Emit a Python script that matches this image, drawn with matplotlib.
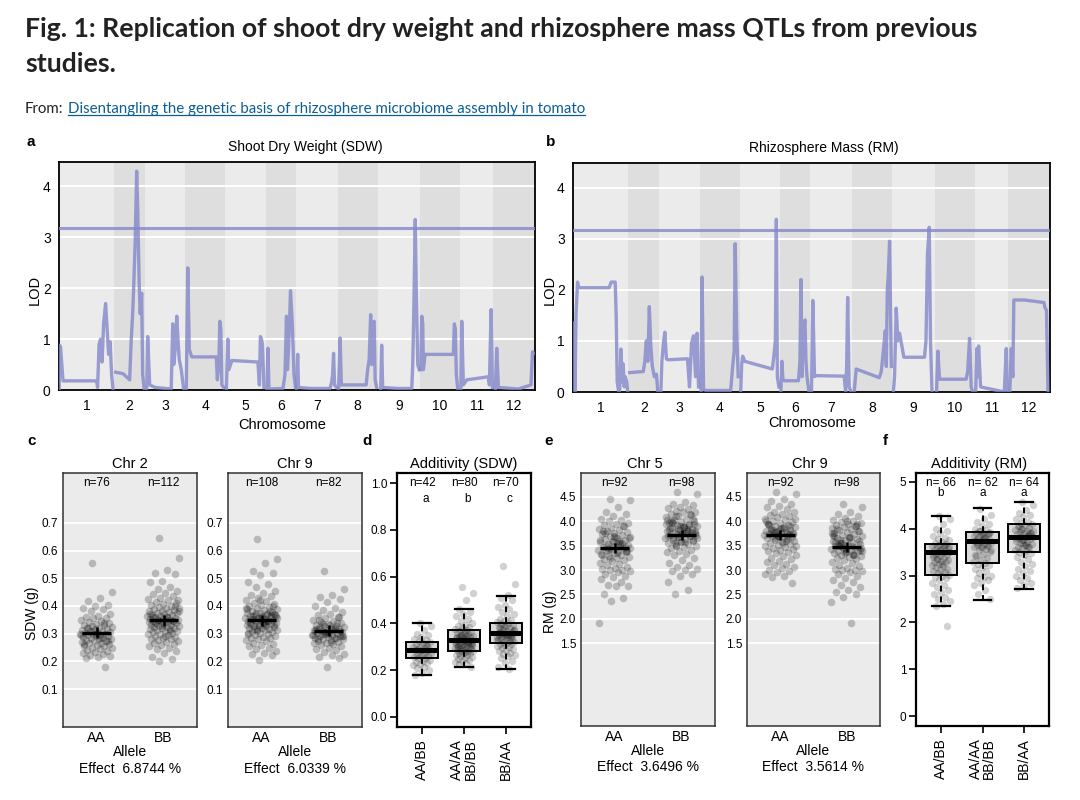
import matplotlib
matplotlib.use("Agg")
import matplotlib.pyplot as plt
import numpy as np
from matplotlib.lines import Line2D

W, H = 1080, 800

# ---------------- LOD profiles (cM within chromosome, LOD) ----------------
chr_names = [str(i) for i in range(1, 13)]
chr_len = [110, 62, 80, 80, 81, 60, 83, 80, 84, 81, 66, 83]

sdw_pos = [
    [0.3, 1, 3, 8, 75, 77, 80, 83, 86, 89, 93, 96, 99, 102, 105, 108],
    [3, 18, 31, 34, 37, 39, 42, 45, 47, 50, 52, 55, 57, 60],
    [3, 5, 9, 20, 52, 55, 57, 60, 63, 66, 68, 72, 77],
    [2, 5, 8, 13, 62, 64, 67, 69, 71, 73, 77],
    [2, 5, 7, 13, 65, 68, 70, 72, 74, 77],
    [2, 4, 6, 34, 38, 41, 43, 45, 47, 49, 51, 53, 56, 59],
    [1, 3.4, 5, 30, 68, 71, 73, 75, 77, 81],
    [2, 5, 7.6, 57, 60, 63, 66, 68, 70, 73, 75, 78],
    [6, 8, 10, 40, 68, 70, 72, 75, 77, 80, 83],
    [2, 4, 6, 7.3, 10.6, 67, 69, 71, 73, 76],
    [1, 2.8, 6, 13, 56, 58, 61.3, 64],
    [4, 6.6, 10, 50, 75, 78, 81],
]
sdw_lod = [
    [0.0, 0.88, 0.85, 0.18, 0.18, 0.05, 0.9, 1.0, 0.55, 1.3, 1.7, 1.2, 0.7, 0.95, 0.3, 0.0],
    [0.35, 0.32, 0.2, 0.95, 1.5, 2.0, 2.9, 4.3, 3.6, 2.1, 1.5, 1.9, 0.3, 0.02],
    [0.0, 1.05, 0.1, 0.05, 0.02, 1.3, 0.5, 0.8, 1.45, 0.9, 0.6, 0.4, 0.0],
    [0.0, 2.4, 0.8, 0.65, 0.65, 0.2, 0.5, 1.35, 1.2, 0.1, 0.05],
    [0.0, 1.0, 0.4, 0.58, 0.55, 0.1, 1.05, 1.0, 0.9, 0.05],
    [0.0, 0.82, 0.02, 0.03, 0.3, 1.45, 0.4, 0.8, 1.3, 1.95, 1.6, 1.2, 0.3, 0.05],
    [0.0, 0.7, 0.05, 0.03, 0.03, 0.15, 0.3, 0.72, 0.1, 0.05],
    [0.0, 1.02, 0.1, 0.1, 0.4, 0.6, 1.48, 0.5, 1.3, 1.35, 0.2, 0.05],
    [0.0, 0.88, 0.05, 0.03, 0.03, 0.5, 1.5, 3.35, 2.0, 0.5, 0.4],
    [0.4, 1.45, 1.3, 0.4, 0.7, 0.7, 1.3, 1.2, 0.3, 0.0],
    [0.0, 1.35, 0.1, 0.2, 0.26, 0.1, 1.58, 0.05],
    [0.0, 0.82, 0.05, 0.02, 0.1, 0.75, 0.72],
]
sdw_threshold = 3.18

rm_pos = [
    [1, 3, 4, 6, 9, 11, 14, 72, 76, 84, 86, 88, 91, 93, 95.5, 98, 100, 102, 104, 107, 109],
    [3, 30, 33, 36, 39, 42, 45, 48, 52, 56, 59],
    [3, 5, 8.6, 11, 14, 17, 56, 60, 64, 68, 72, 75, 78],
    [3, 5, 8, 13, 62, 66, 69, 71, 74, 77],
    [2, 4, 6, 10, 65, 68, 71, 73, 75, 78],
    [1, 3, 5, 8, 36, 39, 41, 43, 46, 49, 51, 53, 57],
    [2, 4.6, 8, 11, 67, 70, 72, 74, 77, 81],
    [4, 8, 54, 58, 61, 64, 66, 68, 70, 72, 74.5, 78],
    [2, 4.4, 7.7, 11, 14.4, 23, 64, 67, 70, 73.5, 76, 79],
    [4, 6.7, 10, 63, 66, 69.8, 73, 76],
    [1, 3.5, 5, 6.8, 10.8, 58, 61.9, 64],
    [3, 5.8, 9, 11, 32, 71, 73, 76, 79],
]
rm_lod = [
    [1.35, 1.3, 0.0, 1.5, 2.15, 2.05, 2.04, 2.04, 2.15, 2.15, 1.5, 0.2, 0.0, 0.05, 0.84, 0.2, 0.55, 0.1, 0.3, 0.2, 0.0],
    [0.38, 0.4, 0.6, 1.0, 0.6, 1.67, 0.9, 0.5, 0.3, 0.35, 0.0],
    [0.0, 0.6, 1.0, 1.17, 0.65, 0.63, 0.65, 0.1, 0.95, 1.1, 0.3, 1.15, 0.1],
    [0.0, 2.25, 0.05, 0.03, 0.03, 0.5, 0.8, 2.9, 1.2, 0.3],
    [0.0, 0.55, 0.7, 0.6, 0.45, 0.7, 1.0, 3.38, 0.3, 0.1],
    [0.0, 0.6, 0.25, 0.22, 0.22, 0.6, 2.2, 0.3, 1.2, 1.41, 0.6, 0.3, 0.0],
    [0.0, 1.79, 0.3, 0.32, 0.31, 0.0, 0.5, 1.85, 0.1, 0.0],
    [0.0, 0.45, 0.28, 0.4, 0.7, 1.0, 1.2, 0.5, 2.0, 2.3, 2.95, 0.5],
    [0.0, 0.3, 1.64, 1.0, 1.15, 0.68, 0.68, 1.0, 2.7, 3.22, 1.0, 0.0],
    [0.0, 0.8, 0.25, 0.25, 0.4, 1.05, 0.1, 0.0],
    [0.0, 0.85, 0.3, 0.9, 0.1, 0.0, 0.85, 0.0],
    [0.0, 0.85, 0.3, 1.8, 1.8, 1.75, 1.65, 1.6, 0.0],
]
rm_threshold = 3.16

# ---------------- allele effect data ----------------
alleles = ["AA", "BB"]

sdw_chr2_aa = [
    0.555, 0.450, 0.430, 0.417, 0.405, 0.400, 0.392, 0.388, 0.380, 0.372,
    0.365, 0.360, 0.358, 0.355, 0.350, 0.347, 0.342, 0.340, 0.336, 0.333,
    0.330, 0.328, 0.325, 0.322, 0.320, 0.318, 0.315, 0.313, 0.310, 0.308,
    0.306, 0.304, 0.302, 0.300, 0.300, 0.298, 0.296, 0.294, 0.292, 0.290,
    0.288, 0.286, 0.284, 0.282, 0.280, 0.278, 0.275, 0.272, 0.270, 0.268,
    0.265, 0.262, 0.260, 0.257, 0.254, 0.250, 0.247, 0.244, 0.240, 0.236,
    0.234, 0.230, 0.226, 0.222, 0.218, 0.215, 0.213, 0.180, 0.310, 0.295,
    0.285, 0.320, 0.275, 0.300, 0.262, 0.338]
sdw_chr2_bb = [
    0.645, 0.572, 0.530, 0.520, 0.515, 0.490, 0.485, 0.470, 0.462, 0.455,
    0.448, 0.442, 0.436, 0.430, 0.425, 0.420, 0.416, 0.412, 0.408, 0.404,
    0.400, 0.397, 0.394, 0.391, 0.388, 0.385, 0.382, 0.380, 0.378, 0.375,
    0.373, 0.371, 0.369, 0.367, 0.365, 0.363, 0.361, 0.359, 0.357, 0.355,
    0.353, 0.351, 0.350, 0.349, 0.348, 0.347, 0.346, 0.345, 0.343, 0.341,
    0.339, 0.337, 0.335, 0.333, 0.331, 0.329, 0.327, 0.325, 0.323, 0.321,
    0.319, 0.317, 0.315, 0.313, 0.311, 0.309, 0.306, 0.303, 0.300, 0.297,
    0.294, 0.291, 0.288, 0.285, 0.282, 0.279, 0.276, 0.273, 0.270, 0.267,
    0.264, 0.260, 0.256, 0.250, 0.244, 0.236, 0.230, 0.215, 0.210, 0.202,
    0.380, 0.360, 0.340, 0.400, 0.330, 0.370, 0.310, 0.350, 0.420, 0.290,
    0.360, 0.345]
sdw_chr9_aa = [
    0.640, 0.570, 0.555, 0.525, 0.520, 0.510, 0.485, 0.478, 0.470, 0.455,
    0.445, 0.440, 0.435, 0.428, 0.422, 0.418, 0.412, 0.408, 0.404, 0.400,
    0.396, 0.392, 0.388, 0.385, 0.382, 0.379, 0.376, 0.373, 0.370, 0.368,
    0.366, 0.364, 0.362, 0.360, 0.358, 0.356, 0.354, 0.352, 0.350, 0.348,
    0.346, 0.344, 0.342, 0.340, 0.338, 0.336, 0.334, 0.332, 0.330, 0.328,
    0.326, 0.324, 0.322, 0.320, 0.318, 0.316, 0.314, 0.312, 0.310, 0.307,
    0.304, 0.301, 0.298, 0.295, 0.292, 0.289, 0.286, 0.283, 0.280, 0.276,
    0.272, 0.268, 0.264, 0.260, 0.255, 0.250, 0.245, 0.238, 0.230, 0.225,
    0.222, 0.205, 0.390, 0.370, 0.350, 0.330, 0.360, 0.340, 0.380, 0.310,
    0.355, 0.335, 0.365, 0.400, 0.420, 0.300, 0.345, 0.375, 0.362, 0.338,
    0.352, 0.368, 0.326, 0.392, 0.344, 0.318, 0.372, 0.358]
sdw_chr9_bb = [
    0.525, 0.460, 0.440, 0.432, 0.425, 0.415, 0.400, 0.392, 0.385, 0.378,
    0.372, 0.366, 0.360, 0.355, 0.350, 0.346, 0.342, 0.338, 0.335, 0.332,
    0.329, 0.326, 0.323, 0.320, 0.318, 0.316, 0.314, 0.312, 0.310, 0.308,
    0.306, 0.304, 0.302, 0.300, 0.298, 0.296, 0.294, 0.292, 0.290, 0.288,
    0.286, 0.284, 0.282, 0.280, 0.277, 0.274, 0.271, 0.268, 0.265, 0.262,
    0.258, 0.254, 0.250, 0.246, 0.240, 0.234, 0.228, 0.222, 0.215, 0.212,
    0.180, 0.310, 0.320, 0.300, 0.290, 0.330, 0.280, 0.340, 0.305, 0.295,
    0.315, 0.325, 0.310, 0.300, 0.318, 0.285, 0.335, 0.290, 0.270, 0.350,
    0.360, 0.305]
rm_chr5_aa = [
    4.45, 4.44, 4.30, 4.20, 4.15, 4.10, 4.05, 4.03, 4.00, 3.97,
    3.95, 3.92, 3.90, 3.87, 3.85, 3.82, 3.80, 3.78, 3.75, 3.73,
    3.71, 3.69, 3.67, 3.65, 3.63, 3.61, 3.59, 3.57, 3.55, 3.53,
    3.51, 3.49, 3.47, 3.45, 3.44, 3.42, 3.40, 3.38, 3.36, 3.34,
    3.32, 3.30, 3.28, 3.26, 3.24, 3.22, 3.20, 3.18, 3.15, 3.12,
    3.10, 3.07, 3.04, 3.02, 3.00, 3.00, 2.98, 2.95, 2.92, 2.88,
    2.85, 2.82, 2.75, 2.70, 2.68, 2.68, 2.50, 2.42, 2.36, 1.92,
    3.60, 3.50, 3.40, 3.70, 3.30, 3.55, 3.45, 3.65, 3.35, 3.75,
    3.48, 3.58, 3.62, 3.52, 3.42, 3.38, 3.68, 3.80, 3.90, 3.25,
    3.46, 3.56]
rm_chr5_bb = [
    4.60, 4.55, 4.40, 4.36, 4.33, 4.30, 4.28, 4.25, 4.22, 4.20,
    4.18, 4.15, 4.12, 4.10, 4.08, 4.05, 4.03, 4.01, 3.99, 3.97,
    3.95, 3.93, 3.91, 3.89, 3.87, 3.85, 3.83, 3.81, 3.79, 3.77,
    3.75, 3.73, 3.71, 3.70, 3.68, 3.66, 3.64, 3.62, 3.60, 3.58,
    3.56, 3.54, 3.52, 3.50, 3.48, 3.45, 3.42, 3.39, 3.36, 3.33,
    3.30, 3.25, 3.20, 3.15, 3.10, 3.06, 3.03, 3.00, 2.97, 2.92,
    2.88, 2.75, 2.60, 2.50, 3.80, 3.90, 4.00, 3.70, 3.85, 3.95,
    3.75, 3.65, 4.05, 3.60, 3.82, 3.92, 4.10, 3.72, 3.88, 3.98,
    3.78, 3.68, 4.02, 3.84, 3.55, 3.94, 3.76, 3.86, 4.15, 3.74,
    3.66, 3.58, 3.96, 3.62, 3.90, 3.70, 3.80, 3.50]
rm_chr9_aa = [
    4.60, 4.55, 4.45, 4.42, 4.35, 4.32, 4.30, 4.25, 4.20, 4.18,
    4.15, 4.12, 4.10, 4.08, 4.05, 4.03, 4.00, 3.98, 3.96, 3.94,
    3.92, 3.90, 3.88, 3.86, 3.84, 3.82, 3.80, 3.79, 3.78, 3.77,
    3.76, 3.75, 3.74, 3.73, 3.72, 3.71, 3.70, 3.69, 3.68, 3.67,
    3.66, 3.64, 3.62, 3.60, 3.58, 3.56, 3.54, 3.52, 3.50, 3.48,
    3.46, 3.44, 3.42, 3.40, 3.37, 3.34, 3.31, 3.28, 3.25, 3.22,
    3.19, 3.16, 3.13, 3.10, 3.07, 3.04, 3.01, 2.98, 2.95, 2.92,
    2.88, 2.85, 2.73, 3.85, 3.95, 3.75, 3.65, 4.05, 3.55, 3.80,
    3.90, 3.70, 4.00, 3.60, 3.82, 3.74, 3.86, 3.92, 3.68, 3.78,
    3.50, 3.88]
rm_chr9_bb = [
    4.35, 4.30, 4.20, 4.15, 4.10, 4.06, 4.03, 4.00, 3.98, 3.96,
    3.94, 3.92, 3.90, 3.88, 3.86, 3.84, 3.82, 3.80, 3.78, 3.76,
    3.74, 3.72, 3.70, 3.68, 3.66, 3.64, 3.62, 3.60, 3.58, 3.56,
    3.54, 3.52, 3.50, 3.48, 3.46, 3.44, 3.42, 3.40, 3.38, 3.36,
    3.34, 3.32, 3.30, 3.28, 3.26, 3.24, 3.22, 3.20, 3.17, 3.14,
    3.11, 3.08, 3.05, 3.02, 3.00, 3.00, 2.98, 2.95, 2.92, 2.88,
    2.84, 2.80, 2.75, 2.70, 2.65, 2.60, 2.55, 2.50, 2.45, 2.35,
    1.92, 3.50, 3.60, 3.40, 3.70, 3.30, 3.55, 3.45, 3.65, 3.85,
    3.95, 3.35, 3.75, 3.50, 3.62, 3.42, 4.00, 3.58, 3.90, 3.48,
    3.38, 3.68, 3.52, 3.80, 3.44, 3.72, 3.30, 3.56]

sdw_chr2_mean = [0.303, 0.348]
sdw_chr9_mean = [0.348, 0.310]
rm_chr5_mean = [3.45, 3.72]
rm_chr9_mean = [3.72, 3.47]
sdw_se = 0.02
rm_se = 0.11
sdw_chr2_n = [76, 112]
sdw_chr9_n = [108, 82]
rm_chr5_n = [92, 98]
rm_chr9_n = [92, 98]

# ---------------- additivity data ----------------
combos = ["AA/BB", "AA/AA\nBB/BB", "BB/AA"]

sdw_add_aabb = [
    0.40, 0.39, 0.37, 0.355, 0.35, 0.34, 0.335, 0.33, 0.325, 0.32,
    0.315, 0.31, 0.305, 0.30, 0.30, 0.295, 0.29, 0.29, 0.285, 0.285,
    0.28, 0.28, 0.275, 0.27, 0.265, 0.26, 0.26, 0.255, 0.25, 0.25,
    0.245, 0.24, 0.235, 0.23, 0.225, 0.22, 0.215, 0.21, 0.20, 0.19,
    0.18, 0.31]
sdw_add_same = [
    0.555, 0.530, 0.500, 0.460, 0.450, 0.440, 0.430, 0.420, 0.410, 0.400,
    0.395, 0.390, 0.385, 0.380, 0.376, 0.372, 0.368, 0.364, 0.360, 0.357,
    0.354, 0.351, 0.348, 0.345, 0.342, 0.340, 0.338, 0.336, 0.334, 0.332,
    0.330, 0.328, 0.326, 0.325, 0.324, 0.322, 0.320, 0.318, 0.316, 0.314,
    0.312, 0.310, 0.308, 0.306, 0.304, 0.302, 0.300, 0.298, 0.296, 0.294,
    0.292, 0.290, 0.288, 0.286, 0.284, 0.282, 0.280, 0.278, 0.275, 0.272,
    0.269, 0.266, 0.263, 0.260, 0.256, 0.252, 0.248, 0.244, 0.240, 0.235,
    0.230, 0.225, 0.215, 0.330, 0.340, 0.320, 0.350, 0.310, 0.360, 0.300]
sdw_add_baaa = [
    0.645, 0.570, 0.520, 0.510, 0.500, 0.480, 0.470, 0.460, 0.450, 0.440,
    0.430, 0.420, 0.415, 0.410, 0.405, 0.400, 0.396, 0.392, 0.388, 0.384,
    0.380, 0.376, 0.372, 0.368, 0.365, 0.362, 0.360, 0.358, 0.356, 0.355,
    0.354, 0.352, 0.350, 0.348, 0.345, 0.342, 0.340, 0.337, 0.334, 0.331,
    0.328, 0.325, 0.322, 0.319, 0.316, 0.313, 0.310, 0.306, 0.302, 0.298,
    0.294, 0.290, 0.285, 0.280, 0.275, 0.270, 0.265, 0.260, 0.250, 0.240,
    0.230, 0.215, 0.205, 0.360, 0.370, 0.350, 0.380, 0.340, 0.390, 0.330]
sdw_box_q1 = [0.251, 0.283, 0.315]
sdw_box_med = [0.286, 0.329, 0.358]
sdw_box_q3 = [0.322, 0.372, 0.400]
sdw_box_lo = [0.180, 0.215, 0.204]
sdw_box_hi = [0.400, 0.460, 0.518]
sdw_add_n = [42, 80, 70]
sdw_add_letters = ["a", "b", "c"]

rm_add_aabb = [
    4.28, 4.20, 4.10, 4.00, 3.95, 3.90, 3.85, 3.80, 3.78, 3.75,
    3.72, 3.70, 3.68, 3.66, 3.64, 3.62, 3.60, 3.58, 3.56, 3.54,
    3.52, 3.50, 3.50, 3.48, 3.46, 3.44, 3.42, 3.40, 3.38, 3.36,
    3.34, 3.32, 3.30, 3.28, 3.25, 3.22, 3.20, 3.18, 3.15, 3.12,
    3.10, 3.08, 3.05, 3.02, 3.00, 2.98, 2.95, 2.90, 2.85, 2.80,
    2.75, 2.70, 2.65, 2.60, 2.55, 2.50, 2.45, 2.40, 2.35, 1.92,
    3.55, 3.45, 3.65, 3.35, 3.60, 3.25]
rm_add_same = [
    4.43, 4.30, 4.20, 4.15, 4.10, 4.05, 4.00, 3.98, 3.96, 3.94,
    3.92, 3.90, 3.88, 3.86, 3.84, 3.82, 3.80, 3.78, 3.76, 3.74,
    3.73, 3.72, 3.70, 3.68, 3.66, 3.64, 3.62, 3.60, 3.57, 3.54,
    3.50, 3.46, 3.42, 3.38, 3.34, 3.30, 3.27, 3.25, 3.22, 3.18,
    3.14, 3.10, 3.05, 3.00, 2.98, 2.95, 2.90, 2.85, 2.80, 2.70,
    2.60, 2.50, 3.85, 3.75, 3.65, 3.95, 3.55, 3.80, 3.70, 3.90,
    3.60, 3.45]
rm_add_baaa = [
    4.58, 4.50, 4.40, 4.33, 4.30, 4.25, 4.20, 4.15, 4.12, 4.10,
    4.08, 4.05, 4.02, 4.00, 3.98, 3.96, 3.94, 3.92, 3.90, 3.88,
    3.86, 3.84, 3.82, 3.82, 3.80, 3.78, 3.76, 3.74, 3.72, 3.70,
    3.68, 3.65, 3.62, 3.60, 3.58, 3.55, 3.52, 3.50, 3.48, 3.45,
    3.40, 3.35, 3.30, 3.25, 3.20, 3.15, 3.10, 3.05, 3.00, 2.95,
    2.90, 2.85, 2.80, 2.73, 3.85, 3.75, 3.95, 3.65, 4.05, 3.90,
    3.70, 3.80, 3.60, 4.00]
rm_box_q1 = [3.02, 3.26, 3.50]
rm_box_med = [3.51, 3.74, 3.82]
rm_box_q3 = [3.675, 3.94, 4.10]
rm_box_lo = [2.35, 2.49, 2.72]
rm_box_hi = [4.28, 4.44, 4.57]
rm_add_n = [66, 62, 64]
rm_add_letters = ["b", "a", "a"]

# ---------------- figure ----------------
plt.rcParams["font.family"] = ["Liberation Sans", "DejaVu Sans"]
LINE = "#8287c9"
HEAD = ["Lato", "DejaVu Sans"]
fig = plt.figure(figsize=(10.8, 8), dpi=100)


def px_axes(x0, y0, x1, y1):
    return fig.add_axes([x0 / W, 1 - y1 / H, (x1 - x0) / W, (y1 - y0) / H])


def px_text(x, y, s, **kw):
    return fig.text(x / W, 1 - y / H, s, **kw)


def jitter(n, width):
    return ((np.arange(n) * 0.6180339887 + 0.37) % 1.0 - 0.5) * 2 * width


def lod_panel(ax, pos, lod, thr):
    starts = np.concatenate([[0], np.cumsum(chr_len)[:-1]])
    for i, (s, L) in enumerate(zip(starts, chr_len)):
        ax.axvspan(s, s + L, color="#ebebeb" if i % 2 == 0 else "#dedede", lw=0, zorder=0)
    for y in [1, 2, 3, 4]:
        ax.axhline(y, color="white", lw=1.4, zorder=1)
    for s, p, l in zip(starts, pos, lod):
        ax.plot(s + np.array(p), l, color=LINE, lw=2.4, alpha=0.8, zorder=3)
    ax.axhline(thr, color=LINE, lw=2.2, alpha=0.8, zorder=3)
    ax.set_xlim(0, sum(chr_len))
    ax.set_ylim(0, 4.48)
    ax.set_xticks(starts + np.array(chr_len) / 2, chr_names)
    ax.set_yticks([0, 1, 2, 3, 4])
    ax.tick_params(axis="x", length=0, labelsize=10, pad=6.5)
    ax.tick_params(axis="y", length=0, labelsize=10, pad=6)
    for sp in ax.spines.values():
        sp.set_linewidth(1.3)
        sp.set_color("black")


def allele_panel(ax, groups, means, se, ns, ylim, yticks, fmt, title_x, title):
    ax.set_facecolor("#ebebeb")
    for t in yticks:
        ax.axhline(t, color="white", lw=1.3, zorder=0)
    for k, vals in enumerate(groups):
        x = k + 1 + jitter(len(vals), 0.24)
        ax.scatter(x, vals, s=30, color="black", alpha=0.22, lw=0, zorder=2)
        ax.hlines(means[k], k + 1 - 0.22, k + 1 + 0.22, color="black", lw=2.4, zorder=3)
        ax.vlines(k + 1, means[k] - se, means[k] + se, color="black", lw=1.8, zorder=3)
        ax.text(k + 1, 0.96, f"n={ns[k]}", transform=ax.get_xaxis_transform(),
                ha="center", va="center", fontsize=8.5)
    ax.set_xlim(0.5, 2.5)
    ax.set_ylim(*ylim)
    ax.set_yticks(yticks, [fmt.format(t) for t in yticks])
    ax.set_xticks([1, 2], alleles)
    ax.tick_params(axis="y", length=0, labelsize=8.5, pad=3.5)
    ax.tick_params(axis="x", length=0, labelsize=10, pad=3)
    for sp in ax.spines.values():
        sp.set_linewidth(1.1)
        sp.set_color("#333333")
    px_text(title_x, 464, title, ha="center", va="center", fontsize=10.5)


def additivity_panel(ax, groups, q1, med, q3, lo, hi, ns, letters, letter_y, nsep,
                     ylim, yticks, fmt, title_x, title):
    stats = [dict(q1=a, med=b, q3=c, whislo=d, whishi=e, fliers=[])
             for a, b, c, d, e in zip(q1, med, q3, lo, hi)]
    ax.bxp(stats, positions=[1, 2, 3], widths=0.78, patch_artist=True, showfliers=False,
           manage_ticks=False, capwidths=0.42,
           boxprops=dict(facecolor="#d9d9d9", edgecolor="black", linewidth=1.4),
           medianprops=dict(color="black", linewidth=3.6),
           whiskerprops=dict(color="black", linewidth=1.4, linestyle=(0, (3, 2.5))),
           capprops=dict(color="black", linewidth=1.6))
    for k, vals in enumerate(groups):
        x = k + 1 + jitter(len(vals), 0.22)
        ax.scatter(x, vals, s=28, color="black", alpha=0.18, lw=0, zorder=4)
        ax.text(k + 1, 0.962, f"n={nsep}{ns[k]}", transform=ax.get_xaxis_transform(),
                ha="center", va="center", fontsize=8.5)
        ax.text(k + 1.08, letter_y, letters[k], transform=ax.get_xaxis_transform(),
                ha="center", va="center", fontsize=8.5)
    ax.set_xlim(0.4, 3.6)
    ax.set_ylim(*ylim)
    ax.set_yticks(yticks, [fmt.format(t) for t in yticks])
    ax.set_xticks([1, 2, 3], combos, rotation=90, va="top", ha="center",
                  linespacing=0.95)
    ax.tick_params(axis="y", length=5, width=1.2, labelsize=8.5, pad=2)
    ax.tick_params(axis="x", length=5, width=1.2, labelsize=10, pad=4)
    for sp in ax.spines.values():
        sp.set_linewidth(1.6)
        sp.set_color("black")
    px_text(title_x, 464, title, ha="center", va="center", fontsize=10.5)


# ---- header ----
px_text(25, 37, "Fig. 1: Replication of shoot dry weight and rhizosphere mass QTLs from previous",
        fontsize=19.2, fontweight="bold", family=HEAD, va="baseline", color="#222222")
px_text(25, 72, "studies.", fontsize=19.2, fontweight="bold", family=HEAD, va="baseline",
        color="#222222")
px_text(25, 113, "From:", fontsize=10.8, family=HEAD, va="baseline", color="#222222")
link = px_text(68, 113, "Disentangling the genetic basis of rhizosphere microbiome assembly in tomato",
               fontsize=10.8, family=HEAD, va="baseline", color="#0d5f91")

# ---- panel a / b ----
ax_a = px_axes(59, 162, 535, 390)
lod_panel(ax_a, sdw_pos, sdw_lod, sdw_threshold)
px_text(305, 147, "Shoot Dry Weight (SDW)", ha="center", va="center", fontsize=10)
px_text(35, 290, "LOD", rotation=90, ha="center", va="center", fontsize=10.5)
px_text(282, 425, "Chromosome", ha="center", va="center", fontsize=10.5)

ax_b = px_axes(573, 163, 1050, 392)
lod_panel(ax_b, rm_pos, rm_lod, rm_threshold)
px_text(824, 148, "Rhizosphere Mass (RM)", ha="center", va="center", fontsize=10)
px_text(550, 290, "LOD", rotation=90, ha="center", va="center", fontsize=10.5)
px_text(812, 423, "Chromosome", ha="center", va="center", fontsize=10.5)

# ---- panel c ----
sdw_ticks = [0.1, 0.2, 0.3, 0.4, 0.5, 0.6, 0.7]
ax_c1 = px_axes(63, 473, 197, 727)
allele_panel(ax_c1, [sdw_chr2_aa, sdw_chr2_bb], sdw_chr2_mean, sdw_se, sdw_chr2_n,
             (-0.037, 0.88), sdw_ticks, "{:.1f}", 130, "Chr 2")
ax_c2 = px_axes(228, 473, 362, 727)
allele_panel(ax_c2, [sdw_chr9_aa, sdw_chr9_bb], sdw_chr9_mean, sdw_se, sdw_chr9_n,
             (-0.037, 0.88), sdw_ticks, "{:.1f}", 295, "Chr 9")
px_text(32, 613, "SDW (g)", rotation=90, ha="center", va="center", fontsize=10)
for cx, eff in [(130, "6.8744"), (295, "6.0339")]:
    px_text(cx, 752, "Allele", ha="center", va="center", fontsize=10)
    px_text(cx, 769, f"Effect  {eff} %", ha="center", va="center", fontsize=10)

# ---- panel d ----
ax_d = px_axes(397, 473, 531, 727)
additivity_panel(ax_d, [sdw_add_aabb, sdw_add_same, sdw_add_baaa], sdw_box_q1, sdw_box_med,
                 sdw_box_q3, sdw_box_lo, sdw_box_hi, sdw_add_n, sdw_add_letters, 0.898, "",
                 (-0.043, 1.043), [0.0, 0.2, 0.4, 0.6, 0.8, 1.0], "{:.1f}", 464,
                 "Additivity (SDW)")

# ---- panel e ----
rm_ticks = [1.5, 2.0, 2.5, 3.0, 3.5, 4.0, 4.5]
ax_e1 = px_axes(581, 473, 715, 726)
allele_panel(ax_e1, [rm_chr5_aa, rm_chr5_bb], rm_chr5_mean, rm_se, rm_chr5_n,
             (-0.2, 4.99), rm_ticks, "{:.1f}", 645, "Chr 5")
ax_e2 = px_axes(747, 473, 880, 726)
allele_panel(ax_e2, [rm_chr9_aa, rm_chr9_bb], rm_chr9_mean, rm_se, rm_chr9_n,
             (-0.2, 4.99), rm_ticks, "{:.1f}", 810, "Chr 9")
px_text(550, 612, "RM (g)", rotation=90, ha="center", va="center", fontsize=10)
for cx, eff in [(648, "3.6496"), (813, "3.5614")]:
    px_text(cx, 751, "Allele", ha="center", va="center", fontsize=10)
    px_text(cx, 767, f"Effect  {eff} %", ha="center", va="center", fontsize=10)

# ---- panel f ----
ax_f = px_axes(916, 473, 1049, 726)
additivity_panel(ax_f, [rm_add_aabb, rm_add_same, rm_add_baaa], rm_box_q1, rm_box_med,
                 rm_box_q3, rm_box_lo, rm_box_hi, rm_add_n, rm_add_letters, 0.922, " ",
                 (-0.21, 5.19), [0, 1, 2, 3, 4, 5], "{:d}", 979, "Additivity (RM)")
for t in ax_f.texts:
    if t.get_text() in ("a", "b"):
        t.set_x(t.get_position()[0] - 0.08)

# ---- panel letters ----
for x, y, s in [(31, 142, "a"), (551, 142, "b"), (32, 441, "c"), (367, 441, "d"),
                (549, 441, "e"), (885, 441, "f")]:
    px_text(x, y, s, ha="center", va="center", fontsize=11, fontweight="bold")

# underline the link
fig.canvas.draw()
bb = link.get_window_extent(fig.canvas.get_renderer())
fig.add_artist(Line2D([bb.x0 / W, bb.x1 / W], [(bb.y0 + 1) / H, (bb.y0 + 1) / H],
                      transform=fig.transFigure, color="#0d5f91", lw=0.9))

fig.savefig("out.png", dpi=100)
plt.close(fig)
